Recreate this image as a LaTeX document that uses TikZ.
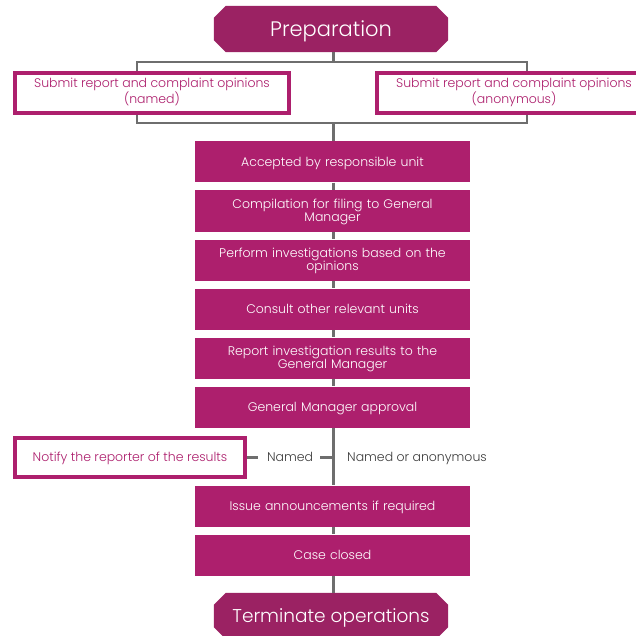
\documentclass[tikz,border=0pt]{standalone}
\usepackage{fontspec}
\setmainfont{Poppins Light}
\usetikzlibrary{backgrounds}
\definecolor{plum}{HTML}{9B2263}
\definecolor{berry}{HTML}{AD1F6D}
\definecolor{wire}{HTML}{6E6E6E}
\definecolor{ink}{HTML}{3C3C3C}
\tikzset{
  endcap/.style={rectangle, draw=none, text=white,
    minimum width=234pt, minimum height=46pt, inner sep=0pt,
    text height=14.5pt, text depth=0pt},
  stepbox/.style={rectangle, fill=berry, draw=none, text=white,
    minimum width=275pt, minimum height=41pt, inner sep=0pt, align=center,
    text width=250pt, font=\fontsize{12.5}{13}\selectfont,
    text height=8.8pt, text depth=0pt},
  outbox/.style={rectangle, fill=white, draw=berry, line width=4pt,
    text=berry, inner sep=0pt, align=center,
    font=\fontsize{12.5}{13}\selectfont,
    text height=8.8pt, text depth=0pt},
  twoline/.style={text depth=13pt},
  twolineout/.style={text height=21.8pt, text depth=0pt},
  wireline/.style={draw=wire, line width=3pt},
  tag/.style={text=ink, inner sep=0pt, font=\fontsize{12.5}{13}\selectfont,
    text height=8.8pt, text depth=0pt},
  capfill/.style={fill=plum}
}
% octagon-like outline with 12pt cut corners around a node
\newcommand\cutcorners[1]{%
  \fill[capfill] ([xshift=12pt]#1.north west) -- ([xshift=-12pt]#1.north east)
    -- ([yshift=-12pt]#1.north east) -- ([yshift=12pt]#1.south east)
    -- ([xshift=-12pt]#1.south east) -- ([xshift=12pt]#1.south west)
    -- ([yshift=12pt]#1.south west) -- ([yshift=-12pt]#1.north west) -- cycle;}
\begin{document}
\begin{tikzpicture}[x=1pt, y=-1pt]
\useasboundingbox (0,0) rectangle (636,636);
\clip (0,0) rectangle (636,636);

% submission frame
\draw[wire, line width=2.2pt] (137,62) rectangle (527,123);
\coordinate (ftop) at (333,62);
\coordinate (fbot) at (333,123);

% start and end caps
\node[endcap, font=\fontsize{21}{24}\selectfont] (prep) at (331,29) {Preparation};
\node[endcap, font=\fontsize{18.5}{22}\selectfont, text height=13pt] (term) at (331,616) {Terminate operations};
\begin{scope}[on background layer]
  \cutcorners{prep}
  \cutcorners{term}
\end{scope}

% reporting channels
\node[outbox, minimum width=274pt, minimum height=40pt, twolineout] (named) at (152,93)
  {Submit report and complaint opinions\\(named)};
\node[outbox, minimum width=274pt, minimum height=40pt, twolineout] (anon) at (514,93)
  {Submit report and complaint opinions\\(anonymous)};

% process steps
\node[stepbox] (acc)  at (332.5,162) {Accepted by responsible unit};
\node[stepbox, twoline] (comp) at (332.5,211) {Compilation for filing to General\\Manager};
\node[stepbox, twoline] (inv)  at (332.5,260) {Perform investigations based on the\\opinions};
\node[stepbox] (cons) at (332.5,309) {Consult other relevant units};
\node[stepbox, twoline] (rep)  at (332.5,358) {Report investigation results to the\\General Manager};
\node[stepbox] (appr) at (332.5,407) {General Manager approval};
\node[stepbox] (iss)  at (332.5,506) {Issue announcements if required};
\node[stepbox] (close) at (332.5,555) {Case closed};

% result notification
\node[outbox, minimum width=230pt, minimum height=39pt] (notify) at (130,457)
  {Notify the reporter of the results};
\node[tag] (nm) at (290,457) {Named};
\node[tag, anchor=west] (nmany) at (347,457) {Named or anonymous};
\coordinate (split) at (333,457);

% connectors
\draw[wireline] (333,0 |- prep.south) -- (ftop);
\draw[wireline] (fbot) -- (fbot |- acc.north);
\foreach \a/\b in {acc/comp, comp/inv, inv/cons, cons/rep, rep/appr, appr/iss, iss/close, close/term}
  \draw[wireline] (333,0 |- \a.south) -- (333,0 |- \b.north);
\draw[wireline] (notify.east) -- ++(11,0);
\draw[wireline] (320,457) -- (split);
\end{tikzpicture}
\end{document}
